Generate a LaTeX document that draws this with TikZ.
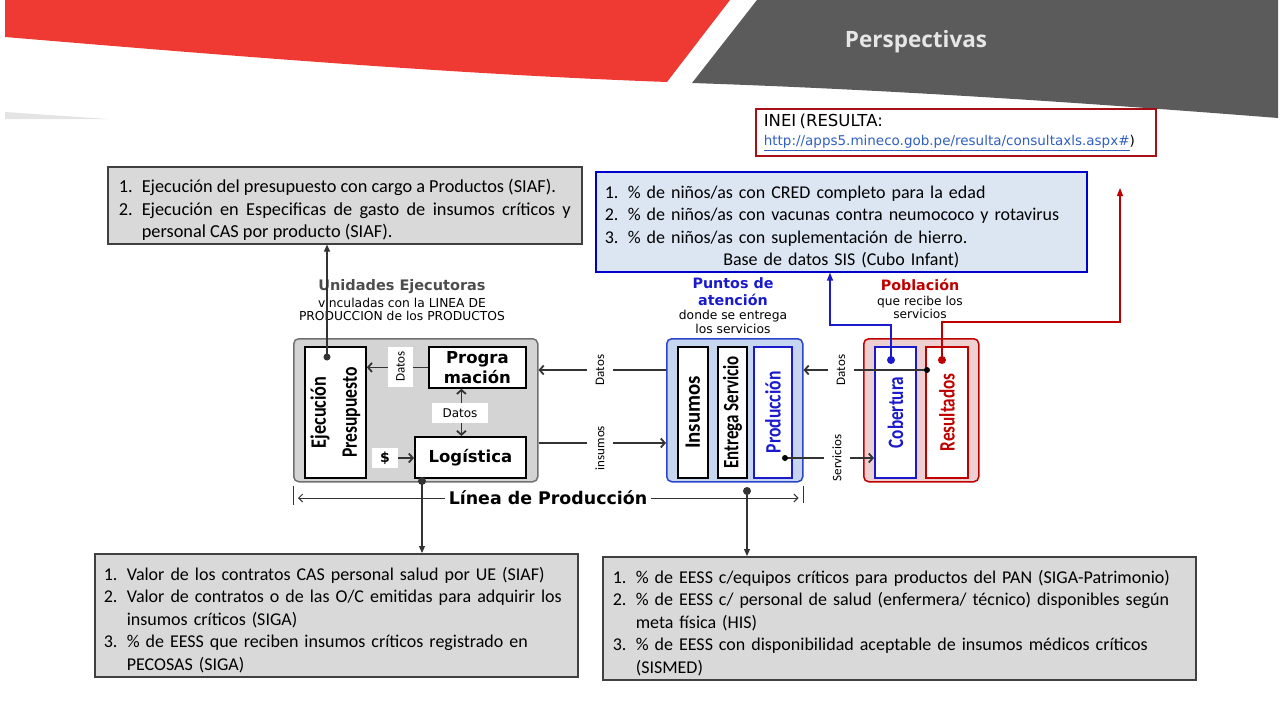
\documentclass[tikz,border=0pt]{standalone}
\usepackage{fontspec}
\usepackage{graphicx}
\setmainfont{Carlito}
\newfontfamily\headfont{Open Sans}
\newfontfamily\webfont{DejaVu Sans}
\usetikzlibrary{arrows.meta}
\definecolor{BandRed}{HTML}{EF3A34}
\definecolor{BandGrey}{HTML}{5B5B5B}
\definecolor{Sliver}{HTML}{E4E4E4}
\definecolor{TitleGrey}{HTML}{E6E6E6}
\definecolor{BoxGrey}{HTML}{D9D9D9}
\definecolor{EdgeGrey}{HTML}{404040}
\definecolor{KpiBlue}{HTML}{DCE6F2}
\definecolor{KpiEdge}{HTML}{0000CC}
\definecolor{IneiRed}{HTML}{A50F15}
\definecolor{LinkBlue}{HTML}{2F5FBF}
\definecolor{UEFill}{HTML}{D4D4D4}
\definecolor{UEEdge}{HTML}{707070}
\definecolor{PtsFill}{HTML}{C7D6F0}
\definecolor{PtsEdge}{HTML}{2B45C8}
\definecolor{PobFill}{HTML}{EFD0D0}
\definecolor{PobEdge}{HTML}{C00000}
\definecolor{DiagBlue}{HTML}{1A1ACC}
\definecolor{DiagRed}{HTML}{C00000}
\definecolor{LineDark}{HTML}{333333}
\definecolor{HeadGrey}{HTML}{4D4D4D}
\newcommand\itm[1]{\par\hangindent=23pt\hangafter=1\noindent\makebox[23pt][l]{#1}}
\newcommand\vlab[2][.8]{\scalebox{#1}[1]{#2}}

\begin{document}
\begin{tikzpicture}[x=1pt,y=-1pt,
  barb/.tip={Straight Barb[length=4pt,width=9pt]},
  kpibox/.style={draw=EdgeGrey,fill=BoxGrey,line width=1.6pt,anchor=north west,inner ysep=0pt,align=left,font=\fontsize{18}{22.5}\selectfont},
  group/.style={rounded corners=5pt,line width=1.5pt,anchor=north west,inner sep=0pt},
  stage/.style={draw=black,fill=white,line width=1.8pt,anchor=north west,inner sep=0pt},
  vtxt/.style={rotate=90,inner sep=0pt,font=\fontsize{22}{26}\selectfont\bfseries},
  conn/.style={line width=1.8pt,draw=LineDark,-barb},
  thinlink/.style={line width=1.2pt,draw=LineDark,-{Triangle[length=7pt,width=6pt]}},
  thinbarb/.style={line width=1pt,draw=LineDark,-{Straight Barb[length=4pt,width=8pt]}},
  tag/.style={fill=white,inner sep=1pt,minimum height=26,font=\fontsize{13}{14}\selectfont}]
\useasboundingbox (0,0) rectangle (1280,720);
% banner
\fill[BandRed] (5,0) -- (730,0) -- (667,82) .. controls (450,74) and (220,55) .. (5,37) -- cycle;
\fill[BandGrey] (757,0) -- (1278,0) -- (1278,118) .. controls (1100,104) and (900,90) .. (692,83) -- cycle;
\fill[Sliver] (5,112) -- (108,119) -- (5,119) -- cycle;
\node[text=TitleGrey,font=\headfont\bfseries\fontsize{22.5}{26}\selectfont] (title) at (916,42) {Perspectivas};
% indicator boxes
\node[draw=IneiRed,line width=1.6pt,anchor=north west,minimum width=400,minimum height=47,inner xsep=8,inner ysep=0pt,text width=384,align=left] (inei) at (755,108)
  {{\webfont\fontsize{16.5}{18}\selectfont INEI (RESULTA:\par}{\webfont\fontsize{13.5}{19}\selectfont\textcolor{LinkBlue}{\underline{http://apps5.mineco.gob.pe/resulta/consultaxls.aspx\#}})\par}};
\node[kpibox,draw=KpiEdge,fill=KpiBlue,minimum width=491,minimum height=100,text width=473,inner xsep=9] (kpi) at (595,171)
  {\itm{1.}\% de niños/as con CRED completo para la edad
   \itm{2.}\% de niños/as con vacunas contra neumococo y rotavirus
   \itm{3.}\% de niños/as con suplementación de hierro.
   \par{\centering Base de datos SIS (Cubo Infant)\par}};
\node[kpibox,align=justify,minimum width=474,minimum height=77,text width=452,inner xsep=11,font=\fontsize{18.3}{22.5}\selectfont] (siaf) at (107,166)
  {\itm{1.}Ejecución del presupuesto con cargo a Productos (SIAF).
   \itm{2.}Ejecución en Especificas de gasto de insumos críticos y\linebreak personal CAS por producto (SIAF).\par};
\node[kpibox,minimum width=483,minimum height=123,text width=465,inner xsep=9] (siga) at (94,553)
  {\itm{1.}Valor de los contratos CAS personal salud por UE (SIAF)
   \itm{2.}Valor de contratos o de las O/C emitidas para adquirir los\newline insumos críticos (SIGA)
   \itm{3.}\% de EESS que reciben insumos críticos registrado en\newline PECOSAS (SIGA)\par};
\node[kpibox,minimum width=593,minimum height=123,text width=573,inner xsep=10] (eess) at (602,556)
  {\itm{1.}\% de EESS c/equipos críticos para productos del PAN (SIGA-Patrimonio)
   \itm{2.}\% de EESS c/ personal de salud (enfermera/ técnico) disponibles según\newline meta física (HIS)
   \itm{3.}\% de EESS con disponibilidad aceptable de insumos médicos críticos\newline (SISMED)\par};
% production line
\node[group,fill=UEFill,draw=UEEdge,minimum width=244,minimum height=143] (ue) at (293,338) {};
\node[group,fill=PtsFill,draw=PtsEdge,minimum width=136,minimum height=143] (pts) at (666,338) {};
\node[group,fill=PobFill,draw=PobEdge,minimum width=115,minimum height=143] (pob) at (863,338) {};
\node[stage,minimum width=61,minimum height=131] (ejec) at (304,346) {};
\node[stage,minimum width=97,minimum height=41,align=center,font=\webfont\bfseries\fontsize{16.5}{20}\selectfont] (prog) at (428,346) {Progra\\mación};
\node[stage,minimum width=111,minimum height=41,font=\webfont\bfseries\fontsize{16.5}{20}\selectfont] (logi) at (414,436) {Logística};
\node[stage,minimum width=30,minimum height=131] (insu) at (677,346) {};
\node[stage,minimum width=29,minimum height=131] (entr) at (717,346) {};
\node[stage,draw=DiagBlue,minimum width=38,minimum height=131] (prod) at (753,346) {};
\node[stage,draw=DiagBlue,minimum width=41,minimum height=131] (cob) at (874,346) {};
\node[stage,draw=DiagRed,minimum width=42,minimum height=131] (res) at (925,346) {};
\node[vtxt,align=center,font=\fontsize{22}{31}\selectfont\bfseries] (ejec-t) at (ejec.center) {\vlab[.83]{Ejecución}\\\vlab[.8]{Presupuesto}};
\node[vtxt] (insu-t) at (insu.center) {\vlab[.95]{Insumos}};
\node[vtxt] (entr-t) at (entr.center) {\vlab[.77]{Entrega Servicio}};
\node[vtxt,text=DiagBlue] (prod-t) at (prod.center) {\vlab{Producción}};
\node[vtxt,text=DiagBlue] (cob-t) at (cob.center) {\vlab[.78]{Cobertura}};
\node[vtxt,text=DiagRed] (res-t) at (res.center) {\vlab[.78]{Resultados}};
% headers
\node[text=HeadGrey,font=\webfont\bfseries\fontsize{14.5}{16}\selectfont] (ue-h) at (402,287) {Unidades Ejecutoras};
\node[align=center,font=\webfont\fontsize{12.3}{13}\selectfont] (ue-s) at (402,309.5) {vinculadas con la LINEA DE\\PRODUCCION de los PRODUCTOS};
\node[align=center,text=DiagBlue,font=\webfont\bfseries\fontsize{14.3}{17}\selectfont] (pts-h) at (733,291.5) {Puntos de\\atención};
\node[align=center,font=\webfont\fontsize{12.3}{14}\selectfont] (pts-s) at (733,322) {donde se entrega\\los servicios};
\node[text=DiagRed,font=\webfont\bfseries\fontsize{14.3}{17}\selectfont] (pob-h) at (920,285) {Población};
\node[align=center,font=\webfont\fontsize{12.2}{13}\selectfont] (pob-s) at (920,307.5) {que recibe los\\servicios};
% connectors
\coordinate (ejdot) at (327,357);
\draw[thinlink] (ejdot) -- (ejdot |- siaf.south);
\fill[LineDark] (ejdot) circle[radius=3.5pt];
\draw[conn] (prog.west) -- (prog.west -| ejec.east);
\node[tag,rotate=90,minimum width=40,minimum height=25] (d1) at (400.5,366.5) {Datos};
\draw[conn,barb-barb] ([xshift=-16pt]prog.south) -- ([xshift=-16pt]prog.south |- logi.north);
\node[tag,minimum width=56,minimum height=20,font=\webfont\fontsize{12}{14}\selectfont] (d2) at (460,413) {Datos};
\node[tag,minimum width=26,minimum height=20,font=\webfont\bfseries\fontsize{14}{16}\selectfont] (dol) at (385,458) {\$};
\draw[conn] (dol.east) -- (dol.east -| logi.west);
\draw[conn] (pts.west |- 0,370) -- (ue.east |- 0,370);
\node[tag,rotate=90] (d3) at (600,370) {Datos};
\draw[conn] (ue.east |- 0,443) -- (pts.west |- 0,443);
\node[tag,rotate=90] (ins) at (600,448) {insumos};
\coordinate (prdot) at (785,458);
\draw[conn] (prdot) -- (cob.west |- prdot);
\fill[black] (prdot) circle[radius=3pt];
\node[tag,rotate=90] (srv) at (837,458) {Servicios};
\coordinate (rsdot) at (927,370);
\draw[conn] (rsdot) -- (pts.east |- rsdot);
\fill[black] (rsdot) circle[radius=3pt];
\node[tag,rotate=90] (d4) at (841,370) {Datos};
\coordinate (cbdot) at (891,360);
\draw[line width=1.3pt,DiagBlue,-{Triangle[length=8pt,width=6pt]}] (cbdot) -- (891,325) -| (kpi.south -| 830,0);
\fill[DiagBlue] (cbdot) circle[radius=4pt];
\coordinate (rddot) at (942,360);
\coordinate (redend) at (1120,188);
\draw[line width=1.3pt,DiagRed,-{Triangle[length=8pt,width=6pt]}] (rddot) -- (942,322) -| (redend);
\fill[DiagRed] (rddot) circle[radius=4pt];
\coordinate (uedot) at (422,481);
\draw[thinlink] (uedot) -- (uedot |- siga.north);
\fill[LineDark] (uedot) circle[radius=4pt];
\coordinate (ptdot) at (747,491);
\draw[thinlink] (ptdot) -- (ptdot |- eess.north);
\fill[LineDark] (ptdot) circle[radius=4pt];
% linea de produccion
\node[font=\webfont\bfseries\fontsize{17.4}{20}\selectfont] (linea) at (548,498) {Línea de Producción};
\draw[thinbarb] (linea.west) -- ([xshift=5pt]linea.west -| ue.west);
\draw[thinbarb] (linea.east) -- ([xshift=-5pt]linea.east -| pts.east);
\draw[line width=1pt,LineDark] (ue.south west) ++(0,3) -- ++(0,19);
\draw[line width=1pt,LineDark] (pts.south east) ++(0,3) -- ++(0,17);
\end{tikzpicture}
\end{document}
